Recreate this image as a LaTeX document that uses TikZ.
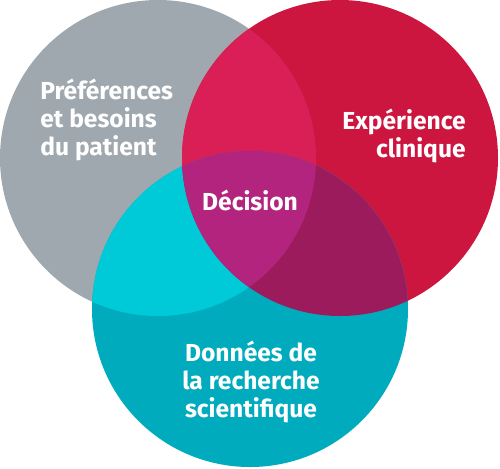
\documentclass[tikz,border=0pt]{standalone}
\usepackage{fontspec}
\setmainfont{Fira Sans}
\usepackage{tikz}
\usetikzlibrary{positioning}
\definecolor{patientgray}{HTML}{9FA8AE}
\definecolor{cliniqred}{HTML}{CC1640}
\definecolor{sciteal}{HTML}{00ABBE}
\definecolor{grayred}{HTML}{DA1E56}
\definecolor{grayteal}{HTML}{00CAD8}
\definecolor{redteal}{HTML}{9C1B5C}
\definecolor{decpurple}{HTML}{B3247E}

\begin{document}
\begin{tikzpicture}[x=0.02cm, y=-0.02cm,
  label/.style={text=white, font=\fontsize{14}{15.9}\selectfont\bfseries, inner sep=0pt}]
  \useasboundingbox (0,0) rectangle (500,468);
  % centres of the three circles
  \def\R{158}
  \coordinate (gc) at (158,158);
  \coordinate (rc) at (340,158);
  \coordinate (tc) at (250,309);
  % base circles
  \fill[patientgray] (gc) circle[radius=\R];
  \fill[cliniqred] (rc) circle[radius=\R];
  \fill[sciteal] (tc) circle[radius=\R];
  % two-way overlaps
  \begin{scope}
    \clip (gc) circle[radius=\R];
    \fill[grayred] (rc) circle[radius=\R];
  \end{scope}
  \begin{scope}
    \clip (gc) circle[radius=\R];
    \fill[grayteal] (tc) circle[radius=\R];
  \end{scope}
  \begin{scope}
    \clip (rc) circle[radius=\R];
    \fill[redteal] (tc) circle[radius=\R];
  \end{scope}
  % centre
  \begin{scope}
    \clip (gc) circle[radius=\R];
    \clip (rc) circle[radius=\R];
    \fill[decpurple] (tc) circle[radius=\R];
  \end{scope}
  % labels
  \node[label, align=left, anchor=west] (patient) at (40,120) {Préférences\\et besoins\\du patient};
  \node[label, align=right, anchor=east] (exper) at (466,136) {Expérience\\clinique};
  \node[label] (decision) at (250,200) {Décision};
  \node[label, align=center] (donnees) at (251,382) {Données de\\la recherche\\scientifique};
\end{tikzpicture}
\end{document}
